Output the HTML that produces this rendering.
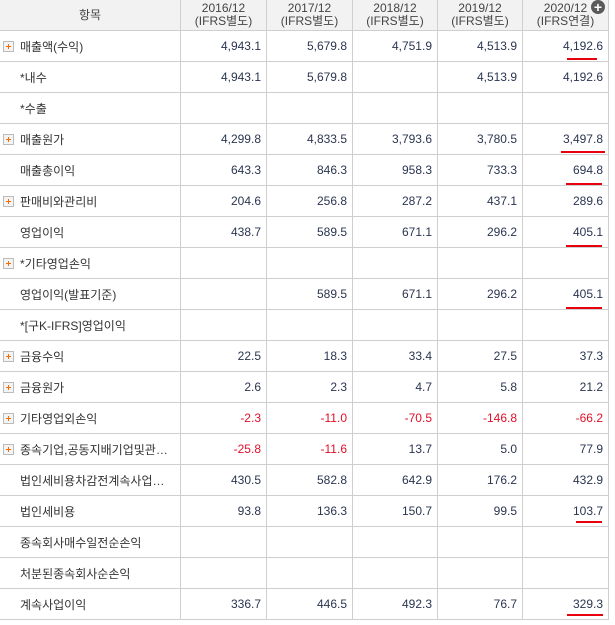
<!DOCTYPE html>
<html><head><meta charset="utf-8"><style>
body{margin:0;background:#fff;width:615px;height:625px;overflow:hidden;font-family:"Liberation Sans","Noto Sans CJK KR","NanumGothic",sans-serif;}
table{position:absolute;left:-1px;top:-1px;border-collapse:collapse;table-layout:fixed;font-size:12px;color:#333;}
td,th{border:1px solid #cfcfcf;padding:0;height:30px;white-space:nowrap;overflow:hidden;}
th{background:#f2f2f2;font-weight:normal;color:#444;line-height:13px;height:30px;font-size:12px;}
td.n{text-align:right;padding-right:5px;color:#2a3550;}
td.r{color:#e0102a;}
td.l{padding-left:20px;position:relative;}
.p{position:absolute;left:3px;top:10px;width:9px;height:9px;border:1px solid #bbb;background:#f4f4f4;}
.p:before{content:"";position:absolute;left:2px;top:4px;width:5px;height:1px;background:#f26a00;}
.p:after{content:"";position:absolute;left:4px;top:2px;width:1px;height:5px;background:#f26a00;}
.u{position:absolute;height:2px;background:#e8000f;}
.c{position:absolute;left:591px;top:0;width:14px;height:14px;border-radius:50%;background:#5a5a5a;color:#fff;font-size:14px;line-height:14px;text-align:center;font-weight:bold;}
</style></head><body>
<table>
<colgroup><col style="width:181px"><col style="width:86px"><col style="width:86px"><col style="width:85px"><col style="width:85px"><col style="width:86px"></colgroup>
<tr><th>항목</th><th>2016/12<br>(IFRS별도)</th><th>2017/12<br>(IFRS별도)</th><th>2018/12<br>(IFRS별도)</th><th>2019/12<br>(IFRS별도)</th><th>2020/12<br>(IFRS연결)</th></tr>
<tr><td class="l"><span class="p"></span>매출액(수익)</td><td class="n">4,943.1</td><td class="n">5,679.8</td><td class="n">4,751.9</td><td class="n">4,513.9</td><td class="n">4,192.6</td></tr>
<tr><td class="l">*내수</td><td class="n">4,943.1</td><td class="n">5,679.8</td><td class="n"></td><td class="n">4,513.9</td><td class="n">4,192.6</td></tr>
<tr><td class="l">*수출</td><td></td><td></td><td></td><td></td><td></td></tr>
<tr><td class="l"><span class="p"></span>매출원가</td><td class="n">4,299.8</td><td class="n">4,833.5</td><td class="n">3,793.6</td><td class="n">3,780.5</td><td class="n">3,497.8</td></tr>
<tr><td class="l">매출총이익</td><td class="n">643.3</td><td class="n">846.3</td><td class="n">958.3</td><td class="n">733.3</td><td class="n">694.8</td></tr>
<tr><td class="l"><span class="p"></span>판매비와관리비</td><td class="n">204.6</td><td class="n">256.8</td><td class="n">287.2</td><td class="n">437.1</td><td class="n">289.6</td></tr>
<tr><td class="l">영업이익</td><td class="n">438.7</td><td class="n">589.5</td><td class="n">671.1</td><td class="n">296.2</td><td class="n">405.1</td></tr>
<tr><td class="l"><span class="p"></span>*기타영업손익</td><td></td><td></td><td></td><td></td><td></td></tr>
<tr><td class="l">영업이익(발표기준)</td><td class="n"></td><td class="n">589.5</td><td class="n">671.1</td><td class="n">296.2</td><td class="n">405.1</td></tr>
<tr><td class="l">*[구K-IFRS]영업이익</td><td></td><td></td><td></td><td></td><td></td></tr>
<tr><td class="l"><span class="p"></span>금융수익</td><td class="n">22.5</td><td class="n">18.3</td><td class="n">33.4</td><td class="n">27.5</td><td class="n">37.3</td></tr>
<tr><td class="l"><span class="p"></span>금융원가</td><td class="n">2.6</td><td class="n">2.3</td><td class="n">4.7</td><td class="n">5.8</td><td class="n">21.2</td></tr>
<tr><td class="l"><span class="p"></span>기타영업외손익</td><td class="n r">-2.3</td><td class="n r">-11.0</td><td class="n r">-70.5</td><td class="n r">-146.8</td><td class="n r">-66.2</td></tr>
<tr><td class="l"><span class="p"></span>종속기업,공동지배기업및관…</td><td class="n r">-25.8</td><td class="n r">-11.6</td><td class="n">13.7</td><td class="n">5.0</td><td class="n">77.9</td></tr>
<tr><td class="l">법인세비용차감전계속사업…</td><td class="n">430.5</td><td class="n">582.8</td><td class="n">642.9</td><td class="n">176.2</td><td class="n">432.9</td></tr>
<tr><td class="l">법인세비용</td><td class="n">93.8</td><td class="n">136.3</td><td class="n">150.7</td><td class="n">99.5</td><td class="n">103.7</td></tr>
<tr><td class="l">종속회사매수일전순손익</td><td></td><td></td><td></td><td></td><td></td></tr>
<tr><td class="l">처분된종속회사순손익</td><td></td><td></td><td></td><td></td><td></td></tr>
<tr><td class="l">계속사업이익</td><td class="n">336.7</td><td class="n">446.5</td><td class="n">492.3</td><td class="n">76.7</td><td class="n">329.3</td></tr>
</table>
<div class="c">+</div>
<div class="u" style="left:567px;top:58px;width:30px"></div>
<div class="u" style="left:561px;top:151px;width:44px"></div>
<div class="u" style="left:566px;top:183px;width:36px"></div>
<div class="u" style="left:566px;top:245px;width:36px"></div>
<div class="u" style="left:566px;top:307px;width:36px"></div>
<div class="u" style="left:576px;top:521px;width:26px"></div>
<div class="u" style="left:567px;top:614px;width:36px"></div>
</body></html>
